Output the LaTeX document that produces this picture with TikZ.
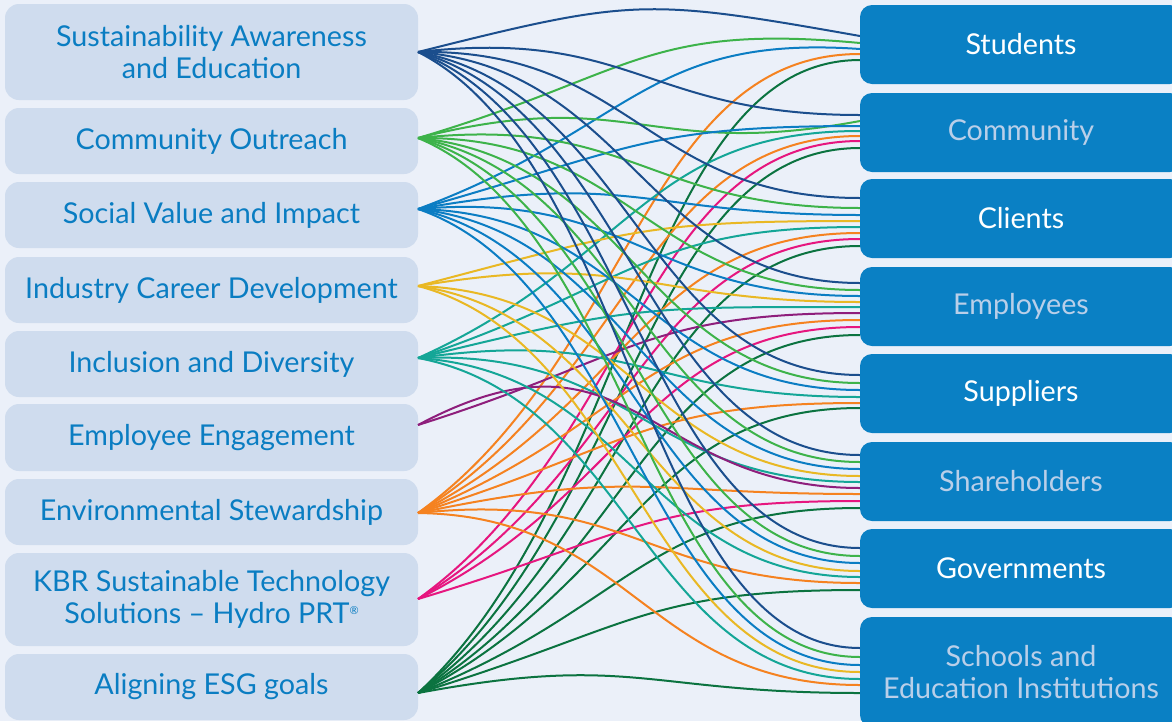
\documentclass[tikz,border=0pt]{standalone}
\usepackage{fontspec}
\setmainfont{Lato}
\usetikzlibrary{calc}
\definecolor{bg}{HTML}{EBF0F9}
\definecolor{lfill}{HTML}{CFDCEE}
\definecolor{ltext}{HTML}{0A7DC2}
\definecolor{rfill}{HTML}{0A80C4}
\definecolor{rdim}{HTML}{B9CFE9}
\definecolor{c1}{HTML}{1B4E8D}
\definecolor{c2}{HTML}{3DB34A}
\definecolor{c3}{HTML}{0B7DC3}
\definecolor{c4}{HTML}{E9B824}
\definecolor{c5}{HTML}{14A697}
\definecolor{c6}{HTML}{8E1E7C}
\definecolor{c7}{HTML}{F58220}
\definecolor{c8}{HTML}{E6167F}
\definecolor{c9}{HTML}{0B7340}
\begin{document}
\begin{tikzpicture}[x=1pt,y=-1pt,
  lbox/.style={fill=lfill, rounded corners=14pt, minimum width=413pt, text=ltext,
    align=center, inner sep=0pt, font=\fontsize{28.7}{32}\selectfont},
  rbox/.style={fill=rfill, rounded corners=12pt, minimum width=322pt, minimum height=79pt,
    align=center, inner sep=0pt, font=\fontsize{28.7}{32}\selectfont},
  lnk/.style={line width=2pt}]
\useasboundingbox (0,0) rectangle (1172,721);
\fill[bg] (0,0) rectangle (1172,721);
\clip (0,0) rectangle (1172,721);

% left boxes
\node[lbox, minimum height=96pt] (L1) at (211.5,52) {Sustainability Awareness\\and Education};
\node[lbox, minimum height=66pt] (L2) at (211.5,141) {Community Outreach};
\node[lbox, minimum height=66pt] (L3) at (211.5,215) {Social Value and Impact};
\node[lbox, minimum height=66pt] (L4) at (211.5,290) {Industry Career Development};
\node[lbox, minimum height=66pt] (L5) at (211.5,364) {Inclusion and Diversity};
\node[lbox, minimum height=67pt] (L6) at (211.5,437.5) {Employee Engagement};
\node[lbox, minimum height=66pt] (L7) at (211.5,512) {Environmental Stewardship};
\node[lbox, minimum height=93pt] (L8) at (211.5,599.5) {KBR Sustainable Technology\\Solutions -- Hydro PRT\raisebox{9pt}{\fontsize{11}{11}\selectfont ®}};
\node[lbox, minimum height=66pt] (L9) at (211.5,687) {Aligning ESG goals};

% source points
\coordinate (s1) at (418,52);
\coordinate (s2) at (418,138);
\coordinate (s3) at (418,209);
\coordinate (s4) at (418,286);
\coordinate (s5) at (418,358);
\coordinate (s6) at (418,425);
\coordinate (s7) at (418,513);
\coordinate (s8) at (418,599);
\coordinate (s9) at (418,693);

% target points
\foreach \t/\ys in {1/{36,43,49,54,60},
                    2/{115,121,126,131,136,141,148},
                    3/{198,208,215,221,227,233,239,246},
                    4/{283,290,296,302,307,313,320,327,335},
                    5/{375,383,390,397,403,408},
                    6/{455,462,469,476,482,488,494,501,508},
                    7/{548,556,563,571,577,583,590},
                    8/{648,657,665,672,679,685,693}}{
  \foreach \yy [count=\k] in \ys { \coordinate (t\t-\k) at (860,\yy); }
}

% connectors: source/target/slot/extra bend start/extra bend end
\foreach \s/\t/\k/\ba/\bb in {
  1/1/1/10pt/38pt, 2/1/2/0pt/20pt, 3/1/3/0pt/15pt, 7/1/4/0pt/0pt, 9/1/5/0pt/0pt,
  1/2/1/0pt/0pt, 2/2/2/10pt/-40pt, 3/2/3/0pt/0pt, 5/2/4/0pt/0pt, 7/2/5/0pt/0pt, 8/2/6/0pt/0pt, 9/2/7/0pt/0pt,
  1/3/1/0pt/0pt, 2/3/2/0pt/0pt, 3/3/3/0pt/0pt, 4/3/4/0pt/0pt, 5/3/5/0pt/0pt, 7/3/6/0pt/0pt, 8/3/7/0pt/0pt, 9/3/8/0pt/0pt,
  1/4/1/0pt/0pt, 2/4/2/0pt/0pt, 3/4/3/0pt/0pt, 4/4/4/0pt/0pt, 5/4/5/0pt/0pt, 6/4/6/0pt/0pt, 7/4/7/0pt/0pt, 8/4/8/0pt/0pt, 9/4/9/0pt/0pt,
  1/5/1/0pt/0pt, 2/5/2/0pt/0pt, 3/5/3/0pt/0pt, 5/5/4/0pt/0pt, 7/5/5/0pt/0pt, 9/5/6/0pt/0pt,
  1/6/1/0pt/0pt, 2/6/2/0pt/0pt, 3/6/3/0pt/0pt, 4/6/4/0pt/0pt, 5/6/5/0pt/0pt, 6/6/6/90pt/0pt, 7/6/7/0pt/0pt, 8/6/8/0pt/0pt, 9/6/9/0pt/0pt,
  1/7/1/0pt/0pt, 2/7/2/0pt/0pt, 3/7/3/0pt/0pt, 4/7/4/0pt/0pt, 5/7/5/0pt/0pt, 7/7/6/0pt/0pt, 9/7/7/0pt/0pt,
  1/8/1/0pt/0pt, 2/8/2/0pt/0pt, 3/8/3/0pt/0pt, 4/8/4/0pt/0pt, 5/8/5/0pt/0pt, 7/8/6/0pt/0pt, 9/8/7/0pt/0pt}{
  \draw[lnk, draw=c\s] let \p1=(s\s), \p2=(t\t-\k) in
    (s\s) .. controls (\x1+215pt, \y1+0.25*\y2-0.25*\y1+40pt+\ba)
           and (\x2-215pt, \y2+\bb) .. (t\t-\k);
}

% right boxes
\node[rbox, text=white] (R1) at (1021,44.5) {Students};
\node[rbox, text=rdim]  (R2) at (1021,132.5) {Community};
\node[rbox, text=white] (R3) at (1021,218.5) {Clients};
\node[rbox, text=rdim]  (R4) at (1021,306.5) {Employees};
\node[rbox, text=white] (R5) at (1021,393.5) {Suppliers};
\node[rbox, text=rdim]  (R6) at (1021,481.5) {Shareholders};
\node[rbox, text=white] (R7) at (1021,568.5) {Governments};
\node[rbox, text=rdim, minimum height=110pt] (R8) at (1021,672) {Schools and\\Education Institutions};
\end{tikzpicture}
\end{document}
